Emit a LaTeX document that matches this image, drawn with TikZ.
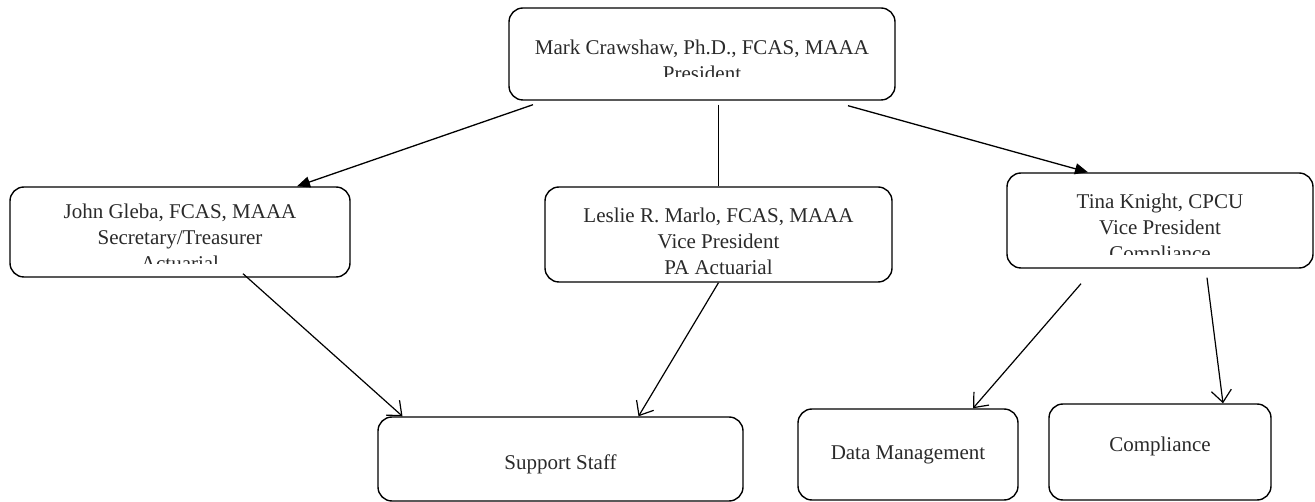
\documentclass[tikz,border=0pt]{standalone}
\usepackage{fontspec}
\setmainfont{Liberation Serif}
\usepackage{tikz}
\usetikzlibrary{arrows.meta, positioning, calc}
\definecolor{cdark}{HTML}{2A2A2A}

\begin{document}
\begin{tikzpicture}[
    x=1pt, y=-1pt,
    font=\fontsize{21}{26}\selectfont,
    box/.style={
        rectangle, rounded corners=14pt, draw=black, line width=1.4pt,
        align=center, inner sep=0pt, text=cdark
    },
    txt/.style={align=center, inner sep=0pt, text=cdark},
    arr/.style={-{Triangle[length=13pt, width=11pt]}, line width=1.3pt},
    barb/.style={-{Straight Barb[length=12pt, width=20pt]}, line width=1.2pt},
    link/.style={line width=1.3pt},
]
\useasboundingbox (0,0) rectangle (1315,502);

% =====================================================================
% Boxes (pixel grid of the page: x to the right, y downwards)
% =====================================================================
\node[box, minimum width=386pt, minimum height=92pt] (crawshaw)   at ( 702,  54)   {};
\node[box, minimum width=340pt, minimum height=90pt] (gleba)      at ( 180, 232)   {};
\node[box, minimum width=347pt, minimum height=95pt] (marlo)      at (718.5,234.5) {};
\node[box, minimum width=306pt, minimum height=95pt] (knight)     at (1160,220.5)  {};
\node[box, minimum width=365pt, minimum height=84pt, text height=26pt] (support)
    at (560.5, 459) {Support Staff};
\node[box, minimum width=220pt, minimum height=91pt] (datamgmt)   at ( 908,454.5)  {Data Management};
\node[box, minimum width=222pt, minimum height=96pt, text depth=14.6pt] (compliance)
    at (1160, 452) {Compliance};

% --- multi-line texts, hung from the top of their box ----------------
\node[txt, anchor=north] (marlotxt) at ($(marlo.north)+(0,21)$)
    {Leslie R. Marlo, FCAS, MAAA\\Vice President\\PA Actuarial};

% --- texts that run past the bottom of their box get cut off --------
\begin{scope}
    \clip ([yshift=24pt]crawshaw.south west) rectangle (crawshaw.north east);
    \node[txt, anchor=north] (crawshawtxt) at ($(crawshaw.north)+(0,32)$)
        {Mark Crawshaw, Ph.D., FCAS, MAAA\\President};
\end{scope}
\begin{scope}
    \clip ([yshift=14pt]gleba.south west) rectangle (gleba.north east);
    \node[txt, anchor=north] (glebatxt) at ($(gleba.north)+(0,17)$)
        {John Gleba, FCAS, MAAA\\Secretary/Treasurer\\Actuarial};
\end{scope}
\begin{scope}
    \clip ([yshift=14pt]knight.south west) rectangle (knight.north east);
    \node[txt, anchor=north] (knighttxt) at ($(knight.north)+(0,21)$)
        {Tina Knight, CPCU\\Vice President\\Compliance};
\end{scope}

% =====================================================================
% President -> vice presidents (filled heads)
% =====================================================================
\draw[arr]  ($(crawshaw.south)+(-169,4)$) -- ($(gleba.north)+(117,0)$);
\draw[link] ($(crawshaw.south -| marlo.north)+(0,4)$) -- (marlo.north);
\draw[arr]  ($(crawshaw.south)+(146,5)$) -- ($(knight.north)+(-72,0)$);

% =====================================================================
% Lower level (open heads)
% =====================================================================
\draw[barb] ($(gleba.south)+(63,-4)$)  -- ($(support.north)+(-158,0)$);
\draw[barb] (marlo.south)              -- ($(support.north)+(78,0)$);
\draw[barb] ($(knight.south)+(-79,15)$) -- ($(datamgmt.north)+(65,0)$);
\draw[barb] ($(knight.south)+(47,9)$)   -- ($(compliance.north)+(63,0)$);

\end{tikzpicture}
\end{document}
